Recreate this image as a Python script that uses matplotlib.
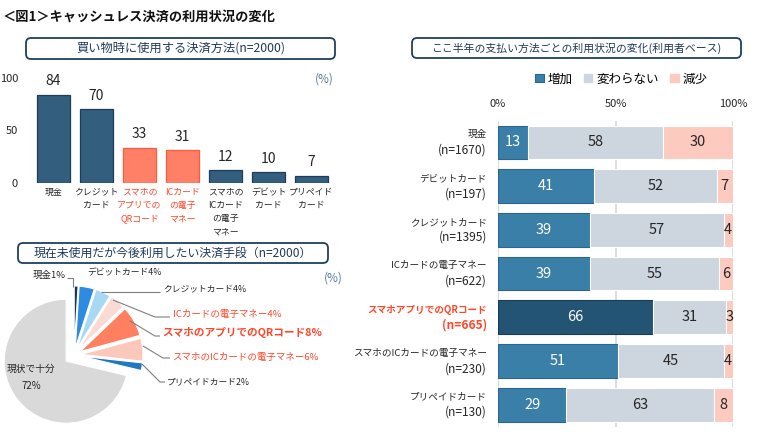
import matplotlib
matplotlib.use("Agg")
import matplotlib.pyplot as plt
import numpy as np
from matplotlib.patches import FancyBboxPatch, Rectangle

plt.rcParams['font.family'] = ['Noto Sans CJK JP', 'DejaVu Sans']

# ---------------- data ----------------
bar_labels = ['現金', 'クレジット\nカード', 'スマホの\nアプリでの\nQRコード', 'ICカード\nの電子\nマネー',
              'スマホの\nICカード\nの電子\nマネー', 'デビット\nカード', 'プリペイド\nカード']
bar_values = [84, 70, 33, 31, 12, 10, 7]
bar_highlight = [False, False, True, True, False, False, False]

pie_labels = ['現金1%', 'デビットカード4%', 'クレジットカード4%', 'ICカードの電子マネー4%',
              'スマホのアプリでのQRコード8%', 'スマホのICカードの電子マネー6%', 'プリペイドカード2%', '現状で十分\n72%']
pie_values = [1, 4, 4, 4, 8, 6, 2, 72]

st_categories = ['現金', 'デビットカード', 'クレジットカード', 'ICカードの電子マネー',
                 'スマホアプリでのQRコード', 'スマホのICカードの電子マネー', 'プリペイドカード']
st_n = [1670, 197, 1395, 622, 665, 230, 130]
st_increase = [13, 41, 39, 39, 66, 51, 29]
st_same = [58, 52, 57, 55, 31, 45, 63]
st_decrease = [30, 7, 4, 6, 3, 4, 8]
st_series = ['増加', '変わらない', '減少']
st_highlight = 4

# ---------------- style ----------------
W, H = 760, 436
DARK = '#335E7E'
DARK_E = '#1E3D58'
SALMON = '#FF8067'
SALMON_E = '#FF5A3C'
RED = '#FF4628'
TXT = '#262626'
NAVY = '#1F3F5F'
PCT = '#5A7A9A'
C_INC = '#3A7FA8'
C_INC_E = '#2A6790'
C_INC_HL = '#245473'
C_SAME = '#CDD5DE'
C_DEC = '#FCCABF'

fig = plt.figure(figsize=(W / 100, H / 100), dpi=100)

def rect(l, t, r, b):
    return [l / W, 1 - b / H, (r - l) / W, (b - t) / H]

def Y(y):
    return H - y

# overlay axes in pixel units (y up)
ax0 = fig.add_axes([0, 0, 1, 1])
ax0.patch.set_alpha(0)

# title
ax0.text(3, Y(17), '＜図1＞キャッシュレス決済の利用状況の変化', fontsize=9.5, fontweight='bold',
         ha='left', va='center', color='#111111')

def titled_box(l, t, r, b, text, fs):
    p = FancyBboxPatch((l, Y(b)), r - l, b - t, boxstyle='round,pad=0,rounding_size=5',
                       fc='white', ec=NAVY, lw=1.3)
    ax0.add_patch(p)
    ax0.text((l + r) / 2, Y((t + b) / 2), text, ha='center', va='center', fontsize=fs, color='#1F3A5A')

titled_box(26, 38, 335, 59, '買い物時に使用する決済方法(n=2000)', 8.8)
titled_box(18, 243, 328, 263, '現在未使用だが今後利用したい決済手段（n=2000）', 8.6)
titled_box(412, 38, 741, 58, 'ここ半年の支払い方法ごとの利用状況の変化(利用者ベース)', 7.8)

ax0.text(334, Y(79), '(%)', ha='right', va='center', fontsize=8.5, color=PCT)
ax0.text(343, Y(278), '(%)', ha='right', va='center', fontsize=8.5, color=PCT)

# ---------------- pie ----------------
pie_colors = ['#1B3556', '#2E8BE0', '#A8D8F4', '#FCDAD4', '#FF8060', '#FCC8BC', '#1F78C1', '#D9D9D9']
explode = [7] * 7 + [10]   # data units (pixels)
wedges, _ = ax0.pie(pie_values, colors=pie_colors, startangle=90, counterclock=False,
                    explode=explode, radius=62, center=(74, Y(355)),
                    wedgeprops=dict(edgecolor='white', linewidth=0.8))
ax0.set_xlim(0, W)
ax0.set_ylim(0, H)
ax0.set_aspect('auto')
ax0.set_axis_off()

LC = '#7F7F7F'
def leader(pts):
    xs = [p[0] for p in pts]
    ys = [Y(p[1]) for p in pts]
    ax0.plot(xs, ys, color=LC, lw=0.8, solid_capstyle='butt')

pie_text_pos = [(66, 275, 'right'), (87, 273, 'left'), (163, 289, 'left'), (173, 314, 'left'),
                (162, 333, 'left'), (172, 357, 'left'), (167, 382, 'left')]
pie_text_col = [TXT, TXT, TXT, RED, RED, RED, TXT]
pie_text_fs = [6.8, 6.3, 6.3, 6.8, 7.7, 6.8, 6.3]
pie_text_fw = ['normal'] * 4 + ['bold', 'normal', 'normal']
for i in range(7):
    x, y, ha = pie_text_pos[i]
    ax0.text(x, Y(y), pie_labels[i], ha=ha, va='center', fontsize=pie_text_fs[i],
             color=pie_text_col[i], fontweight=pie_text_fw[i])
ax0.text(31, Y(377), pie_labels[7], ha='center', va='center', fontsize=7, color=TXT, linespacing=1.9)

leader([(67, 278), (73, 278), (73, 287)])
leader([(101, 292), (160, 292)])
leader([(113, 300), (155, 317), (170, 317)])
leader([(130, 321), (155, 336), (160, 336)])
leader([(143, 346), (163, 358), (170, 358)])
leader([(142, 364), (160, 382), (165, 382)])

# ---------------- bar chart ----------------
ax1 = fig.add_axes(rect(32, 78, 333, 183))
ax1.patch.set_alpha(0)
x = np.arange(len(bar_values))
fcs = [SALMON if h else DARK for h in bar_highlight]
ecs = [SALMON_E if h else DARK_E for h in bar_highlight]
ax1.bar(x, bar_values, width=0.77, color=fcs, edgecolor=ecs, linewidth=0.9)
ax1.set_xlim(-0.5, len(bar_values) - 0.5)
ax1.set_ylim(0, 100)
ax1.set_yticks([0, 50, 100])
ax1.set_yticklabels(['0', '50', '100'], fontsize=8, color=TXT)
ax1.tick_params(axis='y', length=0, pad=10)
ax1.set_xticks([])
for s in ax1.spines.values():
    s.set_visible(False)
for i, v in enumerate(bar_values):
    ax1.annotate(str(v), (i, v), xytext=(0, 10), textcoords='offset points',
                 ha='center', va='center', fontsize=10, color=TXT)
    ax1.text(i, -4.5, bar_labels[i], ha='center', va='top', fontsize=6.4,
             color=RED if bar_highlight[i] else TXT, linespacing=1.6, clip_on=False)

# ---------------- stacked bar chart ----------------
ax2 = fig.add_axes(rect(498, 120.6, 733, 426.6))
ax2.patch.set_alpha(0)
inc = np.array(st_increase, float)
same = np.array(st_same, float)
dec = np.array(st_decrease, float)
tot = inc + same + dec
inc_p, same_p, dec_p = inc / tot * 100, same / tot * 100, dec / tot * 100
yy = np.arange(len(st_categories))
for g in [0, 50, 100]:
    ax2.axvline(g, color='#D9D9D9', lw=1.3, zorder=0)
inc_colors = [C_INC_HL if i == st_highlight else C_INC for i in yy]
inc_edges = ['#163E5A' if i == st_highlight else C_INC_E for i in yy]
ax2.barh(yy, inc_p, height=0.77, color=inc_colors, edgecolor=inc_edges, linewidth=0.8, zorder=2)
ax2.barh(yy, same_p, left=inc_p, height=0.77, color=C_SAME, edgecolor='white', linewidth=0.8, zorder=2)
ax2.barh(yy, dec_p, left=inc_p + same_p, height=0.77, color=C_DEC, edgecolor='white', linewidth=0.8, zorder=2)
ax2.set_xlim(0, 100)
ax2.set_ylim(len(st_categories) - 0.5, -0.5)
ax2.set_xticks([])
ax2.set_yticks([])
for s in ax2.spines.values():
    s.set_visible(False)
for g in [0, 50, 100]:
    ax2.text(g, -0.89, f'{g}%', ha='center', va='center', fontsize=8, color=TXT, clip_on=False)
for i in yy:
    ax2.text(inc_p[i] / 2, i, str(st_increase[i]), ha='center', va='center', fontsize=10.5,
             color='white', zorder=3)
    ax2.text(inc_p[i] + same_p[i] / 2, i, str(st_same[i]), ha='center', va='center', fontsize=10.5,
             color=TXT, zorder=3)
    ax2.text(inc_p[i] + same_p[i] + dec_p[i] / 2, i, str(st_decrease[i]), ha='center', va='center',
             fontsize=10.5, color=TXT, zorder=3, clip_on=False)
    hl = (i == st_highlight)
    col = RED if hl else TXT
    fw = 'bold' if hl else 'normal'
    ax2.text(-4.7, i - 0.175, st_categories[i], ha='right', va='center', fontsize=6.9,
             color=col, fontweight=fw, clip_on=False)
    ax2.text(-4.7, i + 0.175, f'(n={st_n[i]})', ha='right', va='center', fontsize=8.6,
             color=col, fontweight=fw, clip_on=False)

# legend
handles = [Rectangle((0, 0), 1, 1, fc=C_INC, ec=C_INC_E, lw=0.8),
           Rectangle((0, 0), 1, 1, fc=C_SAME, ec=C_SAME),
           Rectangle((0, 0), 1, 1, fc=C_DEC, ec=C_DEC)]
fig.legend(handles, st_series, loc='center', bbox_to_anchor=(621 / W, 1 - 79 / H), ncol=3,
           frameon=False, handlelength=0.7, handleheight=0.7, columnspacing=0.9,
           handletextpad=0.3, prop={'size': 9})

fig.savefig('out.png', dpi=100)
